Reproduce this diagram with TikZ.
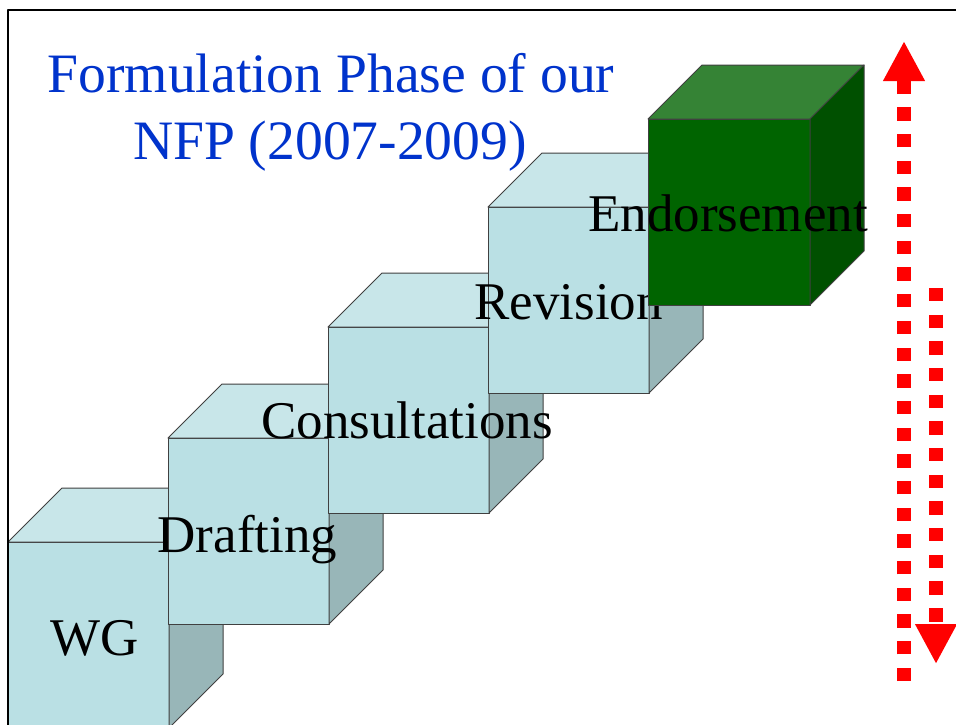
\documentclass[tikz,border=0pt]{standalone}
\usepackage{fontspec}
\setmainfont{Liberation Serif}
\usepackage{tikz}
\usetikzlibrary{arrows.meta}
\usepackage{xcolor}
\definecolor{titleblue}{RGB}{0,51,204}
\definecolor{boxfront}{RGB}{186,224,228}
\definecolor{boxtop}{RGB}{200,230,233}
\definecolor{boxside}{RGB}{152,182,184}
\definecolor{endfront}{RGB}{0,100,0}
\definecolor{endtop}{RGB}{53,131,53}
\definecolor{endside}{RGB}{0,80,0}

\begin{document}
\begin{tikzpicture}[x=0.5pt,y=-0.5pt,line join=round,
  face/.style={draw=black!75,line width=0.5pt},
  stage/.style={anchor=base,inner sep=0pt,font=\fontsize{26.5}{32}\selectfont},
  heading/.style={anchor=base,inner sep=0pt,text=titleblue,font=\fontsize{27.8}{33.5}\selectfont},
  dotline/.style={red,line width=6.6pt,dash pattern=on 6.67pt off 6.67pt,-{Triangle[width=19.5pt,length=20pt]}}]
\clip (0,0) rectangle (956,724);
\fill[white] (0,0) rectangle (956,724);
% title
\node[heading] (title) at (331,92) {Formulation Phase of our};
\node[heading] (title2) at (330,159) {NFP (2007-2009)};
% WG
\filldraw[face,fill=boxfront] (8,542) rectangle ++(161,186);
\filldraw[face,fill=boxtop] (8,542) -- ++(54,-54) -- ++(161,0) -- ++(-54,54) -- cycle;
\filldraw[face,fill=boxside] (169,542) -- ++(54,-54) -- ++(0,186) -- ++(-54,54) -- cycle;
\node[stage] (wg) at (94.5,655) {WG};
% Drafting
\filldraw[face,fill=boxfront] (168,438) rectangle ++(161,186);
\filldraw[face,fill=boxtop] (168,438) -- ++(54,-54) -- ++(161,0) -- ++(-54,54) -- cycle;
\filldraw[face,fill=boxside] (329,438) -- ++(54,-54) -- ++(0,186) -- ++(-54,54) -- cycle;
\node[stage] (drafting) at (247.5,552) {Drafting};
% Consultations
\filldraw[face,fill=boxfront] (328,327) rectangle ++(161,186);
\filldraw[face,fill=boxtop] (328,327) -- ++(54,-54) -- ++(161,0) -- ++(-54,54) -- cycle;
\filldraw[face,fill=boxside] (489,327) -- ++(54,-54) -- ++(0,186) -- ++(-54,54) -- cycle;
\node[stage] (consult) at (407,438) {Consultations};
% Revision
\filldraw[face,fill=boxfront] (488,207) rectangle ++(161,186);
\filldraw[face,fill=boxtop] (488,207) -- ++(54,-54) -- ++(161,0) -- ++(-54,54) -- cycle;
\filldraw[face,fill=boxside] (649,207) -- ++(54,-54) -- ++(0,186) -- ++(-54,54) -- cycle;
\node[stage] (revision) at (568.5,319) {Revision};
% Endorsement
\filldraw[face,fill=endfront] (648,119) rectangle ++(162,186);
\filldraw[face,fill=endtop] (648,119) -- ++(54,-54) -- ++(162,0) -- ++(-54,54) -- cycle;
\filldraw[face,fill=endside] (810,119) -- ++(54,-54) -- ++(0,186) -- ++(-54,54) -- cycle;
\node[stage] (endorse) at (728,231) {Endorsement};
% dotted arrows
\coordinate (uptail) at (904,681);
\coordinate (uphead) at (904,41);
\coordinate (downtail) at (936,288);
\coordinate (downhead) at (936,664);
\draw[dotline] (uptail) -- (uphead);
\draw[dotline] (downtail) -- (downhead);
% frame
\draw[line width=1pt] (8.3,740) -- (8.3,10.3) -- (970,10.3);
\end{tikzpicture}
\end{document}
